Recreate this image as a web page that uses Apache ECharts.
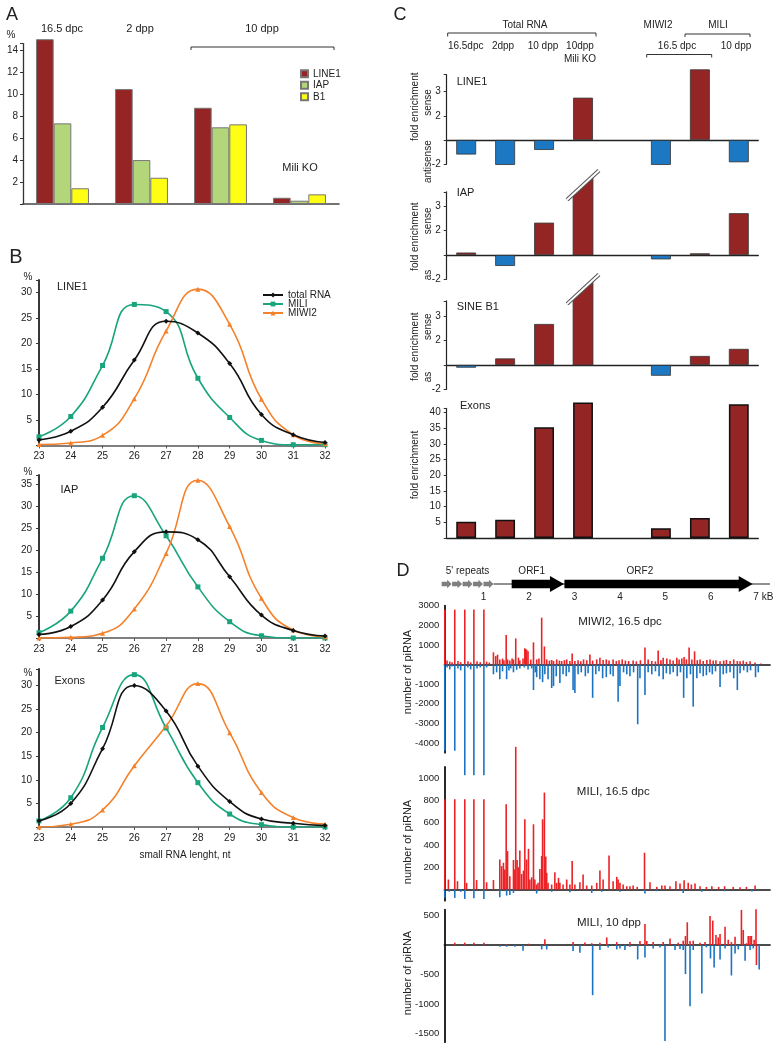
<!DOCTYPE html>
<html><head><meta charset="utf-8">
<script src="https://cdn.jsdelivr.net/npm/echarts@6/dist/echarts.min.js"></script>
<style>html,body{margin:0;padding:0;background:#fff}#c{width:777px;height:1050px}</style>
</head><body><div id="c"></div>
<script>
// ---------- Panel A ----------
const aGroups = ['16.5 dpc', '2 dpp', '10 dpp', 'Mili KO'];
const aLINE1 = [15.0, 10.46, 8.76, 0.57];
const aIAP = [7.34, 4.0, 6.98, 0.3];
const aB1 = [1.43, 2.39, 7.25, 0.88];

// ---------- Panel B ----------
const bLengths = ['23', '24', '25', '26', '27', '28', '29', '30', '31', '32'];
const bLine1Total = [1.1, 2.8, 7.5, 16.8, 24.4, 22.1, 16.1, 6.1, 2.1, 0.6];
const bLine1Mili = [1.7, 5.7, 15.7, 27.7, 26.3, 13.2, 5.5, 1.0, 0.15, 0.15];
const bLine1Miwi2 = [0.2, 0.5, 2.0, 9.2, 22.5, 30.7, 23.8, 9.1, 2.1, 0.35];
const bIapTotal = [0.8, 2.6, 8.6, 19.6, 24.1, 22.3, 13.9, 5.2, 1.7, 0.45];
const bIapMili = [1.2, 6.1, 18.1, 32.3, 23.2, 11.6, 3.7, 0.5, 0, 0];
const bIapMiwi2 = [0, 0.15, 1.1, 6.6, 19.2, 35.8, 25.3, 9.0, 1.8, 0.3];
const bExonTotal = [1.3, 5.0, 16.6, 30.0, 24.6, 12.9, 5.4, 1.7, 0.8, 0.3];
const bExonMili = [1.3, 6.2, 21.1, 32.3, 21.0, 9.4, 2.75, 0.5, 0, 0];
const bExonMiwi2 = [0, 0.6, 3.6, 13.0, 21.4, 30.4, 20.0, 7.3, 2.0, 0.6];

// ---------- Panel C (fold enrichment; negative = antisense) ----------
const cCategories = ['16.5dpc', '2dpp', '10 dpp', '10dpp Mili KO', '', 'MIWI2 16.5 dpc', 'MILI 16.5 dpc', 'MILI 10 dpp'];
const cLine1Fold = [-1.6, -2.03, -1.41, 2.75, null, -2.03, 3.92, -1.92];
const cIapFold = [1.1, -1.45, 2.33, null, null, -1.18, 1.07, 2.72];
const cSineFold = [-1.11, 1.27, 2.68, null, null, -1.44, 1.37, 1.66];
const cExonFold = [5.2, 5.8, 35.3, 43.2, null, 3.1, 6.4, 42.6];
const cIapOffScale = [3];
const cSineOffScale = [3];

// ---------- Panel D ----------
const geneRepeats = [[0.08, 0.3], [0.31, 0.53], [0.54, 0.76], [0.77, 0.99], [1.0, 1.22]];
const geneOrfs = [[1.62, 2.77], [2.78, 6.92]];
const geneBackbone = [[1.22, 7.3]];
const geneLabels = [["5' repeats", 0.65], ['ORF1', 2.06], ['ORF2', 4.44]];

const miwi2Sense = [[0.15,2800],[0.37,2800],[0.59,2800],[0.79,2800],[1.01,2800],
[0.2,200],[0.26,150],[0.31,120],[0.44,180],[0.5,120],[0.66,160],[0.72,110],[0.86,170],[0.93,120],[1.07,150],[1.13,100],
[1.22,620],[1.27,430],[1.31,500],[1.36,260],[1.42,300],[1.45,220],[1.5,1500],[1.53,260],[1.58,200],[1.63,300],[1.66,250],
[1.71,1330],[1.77,350],[1.8,200],[1.87,300],[1.91,830],[1.93,780],[1.95,750],[1.98,670],[2.04,250],[2.1,1130],[2.17,260],
[2.22,300],[2.28,2390],[2.34,920],[2.39,260],[2.45,200],[2.5,230],[2.54,180],[2.61,260],[2.67,200],[2.72,180],[2.78,220],
[2.83,260],[2.9,180],[2.95,560],[3.01,180],[3.08,220],[3.14,160],[3.2,260],[3.27,220],[3.34,510],[3.4,200],[3.49,260],
[3.56,340],[3.63,230],[3.7,260],[3.76,200],[3.85,260],[3.92,180],[3.98,220],[4.05,260],[4.12,200],[4.19,180],[4.29,200],
[4.36,160],[4.45,220],[4.55,870],[4.62,260],[4.7,180],[4.78,160],[4.84,720],[4.9,220],[4.95,340],[5.03,300],[5.1,250],
[5.17,200],[5.25,340],[5.3,260],[5.36,300],[5.41,380],[5.46,260],[5.52,870],[5.58,260],[5.64,670],[5.7,220],[5.76,260],
[5.83,180],[5.91,230],[5.98,260],[6.05,200],[6.11,220],[6.2,160],[6.28,200],[6.34,230],[6.42,180],[6.5,260],[6.58,180],
[6.64,160],[6.71,200],[6.78,130],[6.86,160],[6.97,100],[7.1,50]];
const miwi2Anti = [[0.15,-4400],[0.37,-4400],[0.59,-5650],[0.79,-5650],[1.01,-5650],
[0.2,-150],[0.26,-250],[0.31,-100],[0.44,-200],[0.5,-300],[0.66,-150],[0.72,-250],[0.86,-200],[0.93,-150],[1.07,-150],
[1.22,-500],[1.29,-400],[1.36,-750],[1.42,-350],[1.51,-750],[1.56,-300],[1.6,-200],[1.66,-400],[1.73,-270],[1.8,-200],
[1.9,-150],[1.98,-250],[2.06,-200],[2.1,-1300],[2.14,-400],[2.17,-650],[2.24,-750],[2.3,-900],[2.35,-500],[2.42,-750],
[2.5,-1200],[2.54,-1100],[2.6,-600],[2.68,-950],[2.75,-500],[2.82,-600],[2.88,-400],[2.97,-1300],[3.01,-1450],[3.08,-500],
[3.15,-400],[3.24,-600],[3.3,-450],[3.4,-1700],[3.47,-500],[3.54,-350],[3.62,-700],[3.7,-650],[3.79,-500],[3.85,-600],
[3.96,-1900],[4.0,-1100],[4.08,-400],[4.15,-500],[4.22,-600],[4.3,-400],[4.39,-3050],[4.44,-700],[4.55,-1550],[4.62,-400],
[4.7,-500],[4.78,-350],[4.86,-600],[4.95,-750],[5.02,-450],[5.1,-500],[5.17,-400],[5.26,-600],[5.33,-400],[5.4,-1700],
[5.47,-700],[5.55,-500],[5.61,-2150],[5.69,-700],[5.76,-450],[5.83,-600],[5.9,-550],[5.97,-400],[6.03,-500],[6.1,-350],
[6.2,-1150],[6.27,-500],[6.34,-450],[6.42,-400],[6.5,-700],[6.58,-1300],[6.64,-450],[6.72,-300],[6.8,-400],[6.87,-300],
[6.98,-650],[7.04,-400]];
const mili165Sense = [[0.15,810],[0.23,90],[0.37,810],[0.43,75],[0.59,810],[0.63,60],[0.79,810],[0.85,85],[1.01,810],[1.07,65],
[1.22,85],[1.36,270],[1.4,210],[1.44,240],[1.47,180],[1.5,764],[1.53,345],[1.58,120],[1.66,265],[1.69,180],[1.71,1280],
[1.74,265],[1.77,200],[1.8,350],[1.84,140],[1.88,170],[1.91,630],[1.95,270],[1.99,365],[2.02,90],[2.06,110],[2.1,585],
[2.13,90],[2.17,45],[2.2,60],[2.24,185],[2.28,300],[2.3,630],[2.34,870],[2.37,296],[2.39,150],[2.42,60],[2.5,45],[2.57,155],
[2.61,60],[2.65,105],[2.68,60],[2.75,45],[2.83,90],[2.9,45],[2.95,255],[3.01,45],[3.12,66],[3.19,135],[3.27,36],[3.38,36],
[3.49,60],[3.56,170],[3.63,90],[3.76,305],[3.85,75],[3.93,114],[3.96,90],[4.0,60],[4.07,45],[4.15,30],[4.22,30],[4.29,36],
[4.38,24],[4.54,330],[4.66,66],[4.81,24],[4.92,36],[4.99,36],[5.1,30],[5.23,75],[5.32,54],[5.41,84],[5.5,60],[5.57,45],
[5.65,54],[5.76,30],[5.9,24],[6.02,30],[6.17,24],[6.3,30],[6.49,24],[6.64,21],[6.78,24],[6.97,36]];
const mili165Anti = [[0.15,-75],[0.37,-75],[0.59,-84],[0.79,-78],[1.01,-84],[0.25,-20],[0.5,-20],[1.36,-70],[1.51,-54],
[1.58,-48],[1.66,-30],[2.17,-36],[2.5,-20],[2.9,-25],[3.38,-30],[3.6,-20],[4.0,-20],[4.55,-36],[4.8,-15],[5.39,-30],
[5.8,-20],[6.3,-15],[6.9,-18]];
const mili10Sense = [[0.37,40],[0.59,40],[0.79,40],[1.01,40],[1.5,15],[2.0,20],[2.35,97],[2.97,50],[3.23,45],[3.38,30],
[3.56,40],[3.71,130],[3.93,50],[4.22,50],[4.44,70],[4.55,358],[4.59,70],[4.73,50],[4.95,50],[5.1,110],[5.28,40],[5.39,74],
[5.44,153],[5.48,386],[5.54,70],[5.61,74],[5.76,40],[5.87,50],[5.98,494],[6.04,414],[6.11,170],[6.16,130],[6.2,187],
[6.31,312],[6.38,90],[6.45,50],[6.53,140],[6.67,596],[6.71,255],[6.78,30],[6.82,153],[6.86,153],[6.89,153],[6.95,90],
[6.99,608],[7.0,-340]];
const mili10Anti = [[1.36,-30],[1.51,-30],[1.69,-30],[1.87,-97],[2.28,-74],[2.39,-74],[2.97,-100],[3.12,-130],[3.4,-852],
[3.56,-85],[3.74,-40],[3.93,-74],[4.0,-57],[4.11,-85],[4.22,-30],[4.39,-244],[4.55,-210],[4.73,-57],[4.88,-40],[4.99,-1630],
[5.21,-85],[5.32,-68],[5.39,-85],[5.44,-494],[5.54,-1040],[5.61,-85],[5.8,-824],[5.9,-40],[5.99,-227],[6.07,-380],
[6.2,-244],[6.31,-57],[6.45,-517],[6.53,-142],[6.6,-74],[6.75,-267],[6.86,-85],[6.93,-57],[7.06,-415]];

// ---------- styling ----------
const FONT = "'Liberation Sans', Arial, Helvetica, sans-serif";
const TXT = '#222';
const RED_A = '#952424', GREEN_A = '#b3d67a', YEL_A = '#ffff14';
const BLACK_L = '#111', GREEN_L = '#18a47c', ORANGE_L = '#f5812a';
const RED_C = '#932524', BLUE_C = '#1c78c3';
const RED_D = '#ec2226', BLUE_D = '#1b74c3';

const chart = echarts.init(document.getElementById('c'), null, {renderer: 'canvas'});

const grids = [], xAxes = [], yAxes = [], series = [];
function addGrid(g) { grids.push(g); return grids.length - 1; }

// ---- A ----
const gA = addGrid({left: 23, top: 43.6, width: 316, height: 160.4});
xAxes.push({gridIndex: gA, type: 'category', data: aGroups, axisLine: {lineStyle: {color: '#444', width: 1.5}}, axisTick: {show: false}, axisLabel: {show: false}});
yAxes.push({gridIndex: gA, type: 'value', min: 0, max: 14.6, interval: 2, splitLine: {show: false},
  axisLine: {show: true, lineStyle: {color: '#333', width: 1.3}}, axisTick: {show: true, length: 3, lineStyle: {color: '#333'}},
  axisLabel: {fontSize: 10, color: TXT, fontFamily: FONT, margin: 5, formatter: v => (v > 0 && v % 2 === 0) ? v : ''}});
[['LINE1', aLINE1, RED_A], ['IAP', aIAP, GREEN_A], ['B1', aB1, YEL_A]].forEach(([n, d, c]) => series.push({
  type: 'bar', name: n, xAxisIndex: gA, yAxisIndex: gA, data: d, barGap: '0%', barCategoryGap: '33%', clip: false,
  itemStyle: {color: c, borderColor: '#777', borderWidth: 1}}));

// ---- B ----
const bPanels = [
  {top: 280, height: 165.5, max: 32.5, data: [bLine1Total, bLine1Mili, bLine1Miwi2]},
  {top: 475, height: 163, max: 37, data: [bIapTotal, bIapMili, bIapMiwi2]},
  {top: 669, height: 158, max: 33.5, data: [bExonTotal, bExonMili, bExonMiwi2]}
];
bPanels.forEach(p => {
  const gi = addGrid({left: 39, top: p.top, width: 286, height: p.height});
  xAxes.push({gridIndex: gi, type: 'category', data: bLengths, boundaryGap: false,
    axisLine: {lineStyle: {color: '#555', width: 1.5}}, axisTick: {show: true, length: 3, alignWithLabel: true, lineStyle: {color: '#555'}},
    axisLabel: {fontSize: 10, color: TXT, fontFamily: FONT, margin: 6}});
  yAxes.push({gridIndex: gi, type: 'value', min: 0, max: p.max, interval: 5, splitLine: {show: false},
    axisLine: {show: true, lineStyle: {color: '#222', width: 1.8}}, axisTick: {show: true, length: 3, lineStyle: {color: '#333'}},
    axisLabel: {fontSize: 10, color: TXT, fontFamily: FONT, margin: 7, formatter: v => (v > 0 && v % 5 === 0) ? v : ''}});
  [['total RNA', BLACK_L, 'diamond'], ['MILI', GREEN_L, 'rect'], ['MIWI2', ORANGE_L, 'triangle']].forEach(([n, c, s], k) => series.push({
    type: 'line', name: n, xAxisIndex: gi, yAxisIndex: gi, data: p.data[k], smooth: 0.5, symbol: s, symbolSize: 5,
    lineStyle: {color: c, width: 1.6}, itemStyle: {color: c}, z: 3 + (k === 0 ? 1 : 0)}));
});

// ---- C ----
const toC = f => f == null ? null : (f > 0 ? f - 1 : f + 1);
const cFmt = v => (Number.isInteger(v) && v !== 0) ? (v > 0 ? v + 1 : v - 1) : '';
function brokenBar(cutLo, cutHi) {
  return function (params, api) {
    const i = api.value(0);
    const base = api.coord([i, 0]);
    const w = api.size([1, 0])[0] * 0.51;
    const xl = base[0] - w / 2, xr = base[0] + w / 2;
    const yl = api.coord([i, cutLo])[1], yr = api.coord([i, cutHi])[1];
    const s = (yr - yl) / (xr - xl), e = 6;
    const sh = {x1: xl - e, y1: yl - e * s, x2: xr + e, y2: yr + e * s};
    return {type: 'group', children: [
      {type: 'polygon', shape: {points: [[xl, base[1]], [xl, yl], [xr, yr], [xr, base[1]]]}, style: {fill: RED_C, stroke: '#333', lineWidth: 0.8}},
      {type: 'line', shape: sh, style: {stroke: '#555', lineWidth: 4}},
      {type: 'line', shape: sh, style: {stroke: '#fff', lineWidth: 2}}
    ]};
  };
}
const cPanels = [
  {top: 74.7, height: 89.5, min: -1, max: 2.7, data: cLine1Fold, off: null},
  {top: 191.8, height: 87.5, min: -1, max: 2.6, data: cIapFold, off: cIapOffScale, cut: [2.5, 3.25]},
  {top: 300.8, height: 88.6, min: -1, max: 2.63, data: cSineFold, off: cSineOffScale, cut: [2.73, 3.48]}
];
cPanels.forEach(p => {
  const gi = addGrid({left: 446.7, top: p.top, width: 311.6, height: p.height});
  xAxes.push({gridIndex: gi, type: 'category', data: cCategories, axisLine: {onZero: true, lineStyle: {color: '#222', width: 1.3}}, axisTick: {show: false}, axisLabel: {show: false}});
  yAxes.push({gridIndex: gi, type: 'value', min: p.min, max: p.max, interval: 1, splitLine: {show: false},
    axisLine: {show: true, lineStyle: {color: '#222', width: 1.2}}, axisTick: {show: true, length: 3, lineStyle: {color: '#333'}},
    axisLabel: {fontSize: 10, color: TXT, fontFamily: FONT, margin: 6, formatter: cFmt}});
  series.push({type: 'bar', xAxisIndex: gi, yAxisIndex: gi, data: p.data.map(toC), barWidth: '51%', clip: false,
    itemStyle: {color: q => q.value > 0 ? RED_C : BLUE_C, borderColor: '#333', borderWidth: 0.8}});
  if (p.off) series.push({type: 'custom', xAxisIndex: gi, yAxisIndex: gi, data: p.off.map(i => [i]), renderItem: brokenBar(p.cut[0], p.cut[1]), clip: false, z: 3});
});
const gC4 = addGrid({left: 446.7, top: 408.4, width: 311.6, height: 129.6});
xAxes.push({gridIndex: gC4, type: 'category', data: cCategories, axisLine: {lineStyle: {color: '#222', width: 1.3}}, axisTick: {show: false}, axisLabel: {show: false}});
yAxes.push({gridIndex: gC4, type: 'value', min: 0, max: 41.3, interval: 5, splitLine: {show: false},
  axisLine: {show: true, lineStyle: {color: '#222', width: 1.2}}, axisTick: {show: true, length: 3, lineStyle: {color: '#333'}},
  axisLabel: {fontSize: 10, color: TXT, fontFamily: FONT, margin: 6, formatter: v => (v > 0 && v % 5 === 0) ? v : ''}});
series.push({type: 'bar', xAxisIndex: gC4, yAxisIndex: gC4, data: cExonFold, barWidth: '51%', clip: false,
  itemStyle: {color: RED_C, borderColor: '#111', borderWidth: 1.5}});

// ---- D gene map ----
const gG = addGrid({left: 438, top: 579, width: 332, height: 10});
xAxes.push({gridIndex: gG, type: 'value', min: 0, max: 7.3, interval: 1, splitLine: {show: false}, axisLine: {show: false}, axisTick: {show: false},
  axisLabel: {fontSize: 10, color: TXT, fontFamily: FONT, margin: 3,
    formatter: v => v === 7 ? '{k|7 kB}' : ((v > 0 && v < 7 && Number.isInteger(v)) ? v : ''),
    rich: {k: {fontSize: 10, color: TXT, fontFamily: FONT, padding: [0, 0, 0, 14]}}}});
yAxes.push({gridIndex: gG, type: 'value', min: 0, max: 1, show: false});
function arrowShape(x0, x1, y, h, H, L) {
  return [[x0, y - h], [x1 - L, y - h], [x1 - L, y - H], [x1, y], [x1 - L, y + H], [x1 - L, y + h], [x0, y + h]];
}
series.push({type: 'custom', xAxisIndex: gG, yAxisIndex: gG, data: geneBackbone, clip: false, silent: true,
  renderItem: (p, api) => { const a = api.coord([api.value(0), 0.5]), b = api.coord([api.value(1), 0.5]);
    return {type: 'line', shape: {x1: a[0], y1: a[1], x2: b[0], y2: b[1]}, style: {stroke: '#222', lineWidth: 1}}; }});
series.push({type: 'custom', xAxisIndex: gG, yAxisIndex: gG, data: geneRepeats, clip: false, silent: true, z: 3,
  renderItem: (p, api) => { const a = api.coord([api.value(0), 0.5]), b = api.coord([api.value(1), 0.5]);
    return {type: 'polygon', shape: {points: arrowShape(a[0], b[0], a[1], 2.3, 4.2, 4.5)}, style: {fill: '#7f7f7f'}}; }});
series.push({type: 'custom', xAxisIndex: gG, yAxisIndex: gG, data: geneOrfs, clip: false, silent: true, z: 3,
  renderItem: (p, api) => { const a = api.coord([api.value(0), 0.5]), b = api.coord([api.value(1), 0.5]);
    return {type: 'polygon', shape: {points: arrowShape(a[0], b[0], a[1], 4.3, 8, 14)}, style: {fill: '#000'}}; }});
series.push({type: 'custom', xAxisIndex: gG, yAxisIndex: gG, data: geneLabels.map(d => [d[1], 0.5]), clip: false, silent: true,
  renderItem: (p, api) => { const a = api.coord([api.value(0), 0.5]);
    return {type: 'text', x: a[0], y: a[1] - 12.5, style: {text: geneLabels[p.dataIndex][0], fill: TXT, font: "10px " + FONT, align: 'center', verticalAlign: 'middle'}}; }});

// ---- D piRNA plots ----
const dPanels = [
  {top: 605.7, height: 147, min: -4500, max: 3000, interval: 500, labels: [3000, 2000, 1000, -1000, -2000, -3000, -4000], sense: miwi2Sense, anti: miwi2Anti},
  {top: 766.9, height: 133.8, min: -100, max: 1100, interval: 100, labels: [200, 400, 600, 800, 1000], sense: mili165Sense, anti: mili165Anti},
  {top: 909.7, height: 132.5, min: -1650, max: 600, interval: 50, labels: [500, -500, -1000, -1500], sense: mili10Sense, anti: mili10Anti}
];
dPanels.forEach(p => {
  const gi = addGrid({left: 444.3, top: p.top, width: 325.8, height: p.height});
  xAxes.push({gridIndex: gi, type: 'value', min: 0.14, max: 7.3, splitLine: {show: false}, axisLine: {onZero: true, lineStyle: {color: '#111', width: 1.5}}, axisTick: {show: false}, axisLabel: {show: false}});
  yAxes.push({gridIndex: gi, type: 'value', min: p.min, max: p.max, interval: p.interval, splitLine: {show: false},
    axisLine: {show: true, lineStyle: {color: '#111', width: 1.8}}, axisTick: {show: false},
    axisLabel: {fontSize: 9.5, color: TXT, fontFamily: FONT, margin: 5, formatter: v => p.labels.includes(v) ? v : ''}});
  series.push({type: 'bar', xAxisIndex: gi, yAxisIndex: gi, data: p.anti, barWidth: 1.6, barGap: '-100%', clip: false, silent: true, itemStyle: {color: BLUE_D}});
  series.push({type: 'bar', xAxisIndex: gi, yAxisIndex: gi, data: p.sense, barWidth: 1.6, barGap: '-100%', clip: false, silent: true, itemStyle: {color: RED_D}});
});

// ---- annotation graphics ----
function txt(text, x, y, o = {}) {
  return {type: 'text', x, y, rotation: o.rot || 0, silent: true, z: 10,
    style: {text, fill: o.color || TXT, font: (o.size || 11) + 'px ' + FONT, align: o.align || 'center', verticalAlign: 'middle'}};
}
function seg(x1, y1, x2, y2, w = 1) { return {type: 'line', silent: true, shape: {x1, y1, x2, y2}, style: {stroke: '#333', lineWidth: w}}; }
const R = Math.PI / 2;
const graphics = [
  txt('A', 12, 15.5, {size: 18}), txt('B', 16, 257.5, {size: 20}), txt('C', 400, 15, {size: 18}), txt('D', 403, 571, {size: 18}),
  // A
  txt('%', 11, 35, {size: 10}),
  txt('16.5 dpc', 62, 29, {size: 11}), txt('2 dpp', 140, 29, {size: 11}), txt('10 dpp', 262, 29, {size: 11}),
  seg(191, 47, 334, 47), seg(191, 47, 191, 50), seg(334, 47, 334, 50),
  txt('Mili KO', 300, 168, {size: 11}),
  // B
  txt('%', 28, 277, {size: 10}), txt('%', 28, 472, {size: 10}), txt('%', 28, 673, {size: 10}),
  txt('LINE1', 57, 286.5, {size: 11, align: 'left'}), txt('IAP', 60.5, 490, {size: 11, align: 'left'}), txt('Exons', 54.5, 680.5, {size: 11, align: 'left'}),
  txt('small RNA lenght, nt', 185, 855, {size: 10}),
  // C header
  txt('Total RNA', 525, 25, {size: 10}), seg(447.7, 33, 596, 33), seg(447.7, 33, 447.7, 36.5), seg(596, 33, 596, 36.5),
  txt('16.5dpc', 465.7, 46, {size: 10}), txt('2dpp', 503, 46, {size: 10}), txt('10 dpp', 543, 46, {size: 10}),
  txt('10dpp', 580, 46, {size: 10}), txt('Mili KO', 580, 59, {size: 10}),
  txt('MIWI2', 658, 25, {size: 10}), txt('MILI', 718, 25, {size: 10}),
  seg(685, 34, 750, 34), seg(685, 34, 685, 37), seg(750, 34, 750, 37),
  txt('16.5 dpc', 677, 46, {size: 10}), txt('10 dpp', 736, 46, {size: 10}),
  seg(646.7, 54.5, 711.7, 54.5), seg(646.7, 54.5, 646.7, 57.5), seg(711.7, 54.5, 711.7, 57.5),
  // C panels
  txt('LINE1', 456.7, 81.7, {size: 11, align: 'left'}), txt('IAP', 456.7, 193, {size: 11, align: 'left'}),
  txt('SINE B1', 456.7, 306.7, {size: 11, align: 'left'}), txt('Exons', 460, 406, {size: 11, align: 'left'}),
  txt('fold enrichment', 415, 106.7, {size: 10, rot: R}), txt('sense', 428, 102.5, {size: 10, rot: R}), txt('antisense', 428, 161.7, {size: 10, rot: R}),
  txt('fold enrichment', 415, 236.7, {size: 10, rot: R}), txt('sense', 428, 220.8, {size: 10, rot: R}), txt('as', 428, 275, {size: 10, rot: R}),
  txt('fold enrichment', 415, 346.7, {size: 10, rot: R}), txt('sense', 428, 326.7, {size: 10, rot: R}), txt('as', 428, 377, {size: 10, rot: R}),
  txt('fold enrichment', 415, 465, {size: 10, rot: R}),
  // D
  txt('MIWI2, 16.5 dpc', 620, 621.7, {size: 11.5}), txt('MILI, 16.5 dpc', 613.3, 792.3, {size: 11.5}), txt('MILI, 10 dpp', 609, 922.7, {size: 11.5}),
  txt('number of piRNA', 408, 672, {size: 11, rot: R}), txt('number of piRNA', 408, 842, {size: 11, rot: R}), txt('number of piRNA', 408, 973, {size: 11, rot: R})
];

chart.setOption({
  animation: false,
  backgroundColor: '#fff',
  textStyle: {fontFamily: FONT},
  grid: grids, xAxis: xAxes, yAxis: yAxes, series,
  legend: [
    {data: ['LINE1', 'IAP', 'B1'], left: 295, top: 67.5 - 4, orient: 'vertical', icon: 'rect', itemWidth: 7, itemHeight: 7, itemGap: 1,
      selectedMode: false, textStyle: {fontSize: 10, color: TXT, fontFamily: FONT, lineHeight: 10.5}},
    {data: ['total RNA', 'MILI', 'MIWI2'], left: 257, top: 285, orient: 'vertical', itemWidth: 20, itemHeight: 6, itemGap: -1,
      selectedMode: false, textStyle: {fontSize: 10, color: TXT, fontFamily: FONT, lineHeight: 9}}
  ],
  graphic: graphics
});
</script></body></html>
